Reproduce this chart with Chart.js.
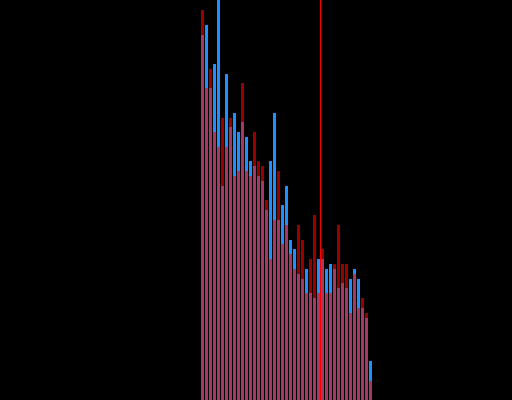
<!DOCTYPE html>
<html>
<head>
<meta charset="utf-8">
<style>
  html, body { margin: 0; padding: 0; background: #000; }
  #wrap { width: 512px; height: 400px; background: #000; }
</style>
<script src="https://cdn.jsdelivr.net/npm/chart.js@4/dist/chart.umd.min.js"></script>
</head>
<body>
<div id="wrap"><canvas id="c" width="512" height="400"></canvas></div>
<script>
// Bin indices (histogram bins)
const bins = [0,1,2,3,4,5,6,7,8,9,10,11,12,13,14,15,16,17,18,19,20,21,22,23,24,25,26,27,28,29,30,31,32,33,34,35,36,37,38,39,40,41,42];
// Series A (blue) counts
const blueValues = [365,375,312,336,400,214,326,273,287,268,278,263,239,234,224,219,190,239,287,180,195,214,160,151,126,121,131,107,102,141,141,131,136,131,112,117,112,121,131,121,92,82,39];
// Series B (red) counts
const redValues  = [390,312,331,268,253,282,253,282,224,229,317,229,224,268,239,234,200,141,180,229,156,175,146,131,175,160,107,141,185,107,151,107,107,136,175,136,136,87,126,92,102,87,19];
// Vertical marker position (in bin units) and its extent
const markerX = 29.5;
const markerRange = [0, 400];

const blueData = bins.map((b, i) => ({ x: b, y: blueValues[i] }));
const redData = bins.map((b, i) => ({ x: b, y: redValues[i] }));

new Chart(document.getElementById('c'), {
  data: {
    datasets: [
      {
        type: 'line',
        data: markerRange.map(y => ({ x: markerX, y: y })),
        borderColor: 'rgb(255,0,0)',
        borderWidth: 1,
        pointRadius: 0,
        pointHoverRadius: 0,
        fill: false,
        order: 0
      },
      {
        type: 'bar',
        data: redData,
        backgroundColor: 'rgba(255,0,0,0.6)',
        borderWidth: 0,
        barThickness: 3,
        grouped: false,
        inflateAmount: 0,
        order: 1
      },
      {
        type: 'bar',
        data: blueData,
        backgroundColor: 'rgb(30,144,255)',
        borderWidth: 0,
        barThickness: 3,
        grouped: false,
        inflateAmount: 0,
        order: 2
      }
    ]
  },
  options: {
    responsive: false,
    devicePixelRatio: 1,
    animation: false,
    layout: { padding: 0, autoPadding: false },
    plugins: { legend: { display: false }, tooltip: { enabled: false }, title: { display: false } },
    scales: {
      x: { type: 'linear', min: -50.625, max: 77.375, offset: false, bounds: 'ticks', display: false },
      y: { type: 'linear', min: 0, max: 400, offset: false, display: false }
    }
  }
});
</script>
</body>
</html>
